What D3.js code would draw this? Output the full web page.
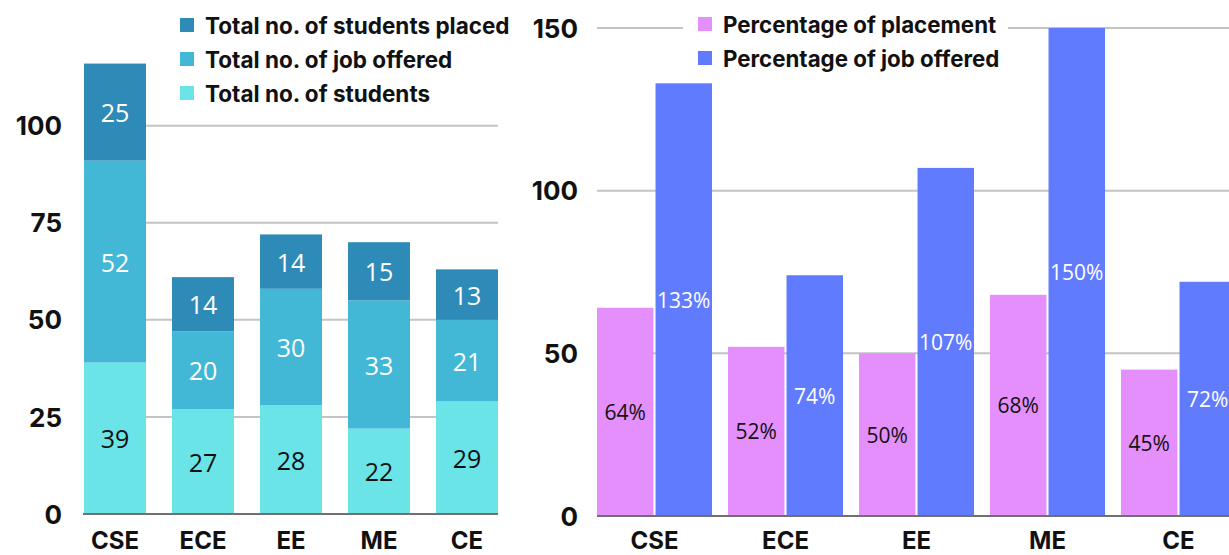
<!DOCTYPE html>
<html><head><meta charset="utf-8">
<script src="https://cdn.jsdelivr.net/npm/d3@7"></script>
<style>
html,body{margin:0;padding:0;background:#fff;}
svg{display:block;}
</style></head>
<body>
<svg id="c" width="1229" height="555"></svg>
<script>
// ---- Data ----
const categories = ["CSE", "ECE", "EE", "ME", "CE"];
const totalStudents = [39, 27, 28, 22, 29];
const jobOffered = [52, 20, 30, 33, 21];
const studentsPlaced = [25, 14, 14, 15, 13];
const leftTicks = [0, 25, 50, 75, 100];
const leftLegend = ["Total no. of students placed", "Total no. of job offered", "Total no. of students"];

const pctPlacement = [64, 52, 50, 68, 45];
const pctJobOffered = [133, 74, 107, 150, 72];
const rightTicks = [0, 50, 100, 150];
const rightLegend = ["Percentage of placement", "Percentage of job offered"];

// ---- Styles ----
const boldFont = "Inter, 'DejaVu Sans', sans-serif";
const valFont = "'Open Sans', sans-serif";
const colStudents = "#6BE4E8", colOffered = "#42B7D6", colPlaced = "#2E8BB8";
const colPink = "#E48FFB", colBlue = "#617BFF";
const gridCol = "#c4c4c4", baseCol = "#707070";

const svg = d3.select("#c");

// ================= LEFT CHART =================
const L = {x0: 84, x1: 498, yBase: 514, yTop: 125.7};
const xL = d3.scaleBand().domain(categories).range([L.x0, L.x1]).paddingInner(26/88).paddingOuter(0);
const yL = d3.scaleLinear().domain([0, 100]).range([L.yBase, L.yTop]);

const gL = svg.append("g");
gL.selectAll("line.grid").data(leftTicks.filter(t => t > 0)).join("line")
  .attr("x1", L.x0).attr("x2", L.x1)
  .attr("y1", d => yL(d)).attr("y2", d => yL(d))
  .attr("stroke", gridCol).attr("stroke-width", 2);

const stackRows = categories.map((c, i) => ({cat: c, students: totalStudents[i], offered: jobOffered[i], placed: studentsPlaced[i]}));
const keys = ["students", "offered", "placed"];
const colors = {students: colStudents, offered: colOffered, placed: colPlaced};
const textCols = {students: "#111", offered: "#fff", placed: "#fff"};
const series = d3.stack().keys(keys)(stackRows);

series.forEach(s => {
  const k = s.key;
  gL.append("g").selectAll("rect").data(s).join("rect")
    .attr("x", d => xL(d.data.cat))
    .attr("width", xL.bandwidth())
    .attr("y", d => yL(d[1]))
    .attr("height", d => yL(d[0]) - yL(d[1]))
    .attr("fill", colors[k]);
  gL.append("g").selectAll("text").data(s).join("text")
    .attr("x", d => xL(d.data.cat) + xL.bandwidth() / 2)
    .attr("y", d => (yL(d[0]) + yL(d[1])) / 2)
    .attr("text-anchor", "middle").attr("dominant-baseline", "central")
    .attr("font-family", valFont).attr("font-size", 25)
    .attr("fill", textCols[k])
    .text(d => d.data[k]);
});

gL.append("line").attr("x1", L.x0 - 1).attr("x2", L.x1).attr("y1", L.yBase).attr("y2", L.yBase)
  .attr("stroke", baseCol).attr("stroke-width", 2);

const axL = d3.axisLeft(yL).tickValues(leftTicks).tickSize(0).tickPadding(0);
const gAxL = gL.append("g").attr("transform", "translate(62,0)").call(axL);
gAxL.select(".domain").remove();
gAxL.selectAll("text").attr("font-family", boldFont).attr("font-weight", 700)
  .attr("font-size", 26).attr("fill", "#111").attr("dy", "0.35em");

const axLx = d3.axisBottom(xL).tickSize(0).tickPadding(0);
const gAxLx = gL.append("g").attr("transform", "translate(0,541)").call(axLx);
gAxLx.select(".domain").remove();
gAxLx.selectAll("text").attr("font-family", boldFont).attr("font-weight", 700)
  .attr("font-size", 24).attr("fill", "#111").attr("dy", "0.35em");

const legColsL = [colPlaced, colOffered, colStudents];
const legL = gL.append("g");
leftLegend.forEach((t, i) => {
  const yy = 25 + i * 34;
  legL.append("rect").attr("x", 180).attr("y", yy - 7).attr("width", 14).attr("height", 14).attr("fill", legColsL[i]);
  legL.append("text").attr("x", 205).attr("y", yy).attr("dominant-baseline", "central")
    .attr("font-family", boldFont).attr("font-weight", 700).attr("font-size", 22.5).attr("fill", "#111").text(t);
});

// ================= RIGHT CHART =================
const R = {x0: 597, x1: 1236, yBase: 516, yTop: 28};
const x0R = d3.scaleBand().domain(categories).range([R.x0, R.x1]).paddingInner(16/131).paddingOuter(0);
const x1R = d3.scaleBand().domain(["p", "j"]).range([0, x0R.bandwidth()]).paddingInner(0.035).paddingOuter(0);
const yR = d3.scaleLinear().domain([0, 150]).range([R.yBase, R.yTop]);

const gR = svg.append("g");
gR.selectAll("line.grid").data(rightTicks.filter(t => t > 0)).join("line")
  .attr("x1", R.x0).attr("x2", 1229)
  .attr("y1", d => yR(d)).attr("y2", d => yR(d))
  .attr("stroke", gridCol).attr("stroke-width", 2);

const groupRows = categories.map((c, i) => ({cat: c, p: pctPlacement[i], j: pctJobOffered[i]}));
const rKeys = [{k: "p", col: colPink, tc: "#111"}, {k: "j", col: colBlue, tc: "#fff"}];
rKeys.forEach(o => {
  gR.append("g").selectAll("rect").data(groupRows).join("rect")
    .attr("x", d => x0R(d.cat) + x1R(o.k))
    .attr("width", x1R.bandwidth())
    .attr("y", d => yR(d[o.k]))
    .attr("height", d => yR(0) - yR(d[o.k]))
    .attr("fill", o.col);
  gR.append("g").selectAll("text").data(groupRows).join("text")
    .attr("x", d => x0R(d.cat) + x1R(o.k) + x1R.bandwidth() / 2)
    .attr("y", d => (yR(0) + yR(d[o.k])) / 2)
    .attr("text-anchor", "middle").attr("dominant-baseline", "central")
    .attr("font-family", valFont).attr("font-size", 21).attr("fill", o.tc)
    .text(d => d[o.k] + "%");
});

gR.append("line").attr("x1", R.x0).attr("x2", 1229).attr("y1", R.yBase).attr("y2", R.yBase)
  .attr("stroke", baseCol).attr("stroke-width", 2);

const axR = d3.axisLeft(yR).tickValues(rightTicks).tickSize(0).tickPadding(0);
const gAxR = gR.append("g").attr("transform", "translate(578,0)").call(axR);
gAxR.select(".domain").remove();
gAxR.selectAll("text").attr("font-family", boldFont).attr("font-weight", 700)
  .attr("font-size", 26).attr("fill", "#111").attr("dy", "0.35em");

const axRx = d3.axisBottom(x0R).tickSize(0).tickPadding(0);
const gAxRx = gR.append("g").attr("transform", "translate(0,541)").call(axRx);
gAxRx.select(".domain").remove();
gAxRx.selectAll("text").attr("font-family", boldFont).attr("font-weight", 700)
  .attr("font-size", 24).attr("fill", "#111").attr("dy", "0.35em");

const legR = gR.append("g");
legR.append("rect").attr("x", 683).attr("y", 8).attr("width", 325).attr("height", 64).attr("fill", "#fff");
const legColsR = [colPink, colBlue];
rightLegend.forEach((t, i) => {
  const yy = 24 + i * 34;
  legR.append("rect").attr("x", 698).attr("y", yy - 7).attr("width", 14).attr("height", 14).attr("fill", legColsR[i]);
  legR.append("text").attr("x", 723).attr("y", yy).attr("dominant-baseline", "central")
    .attr("font-family", boldFont).attr("font-weight", 700).attr("font-size", 22.3).attr("fill", "#111").text(t);
});
</script>
</body></html>
